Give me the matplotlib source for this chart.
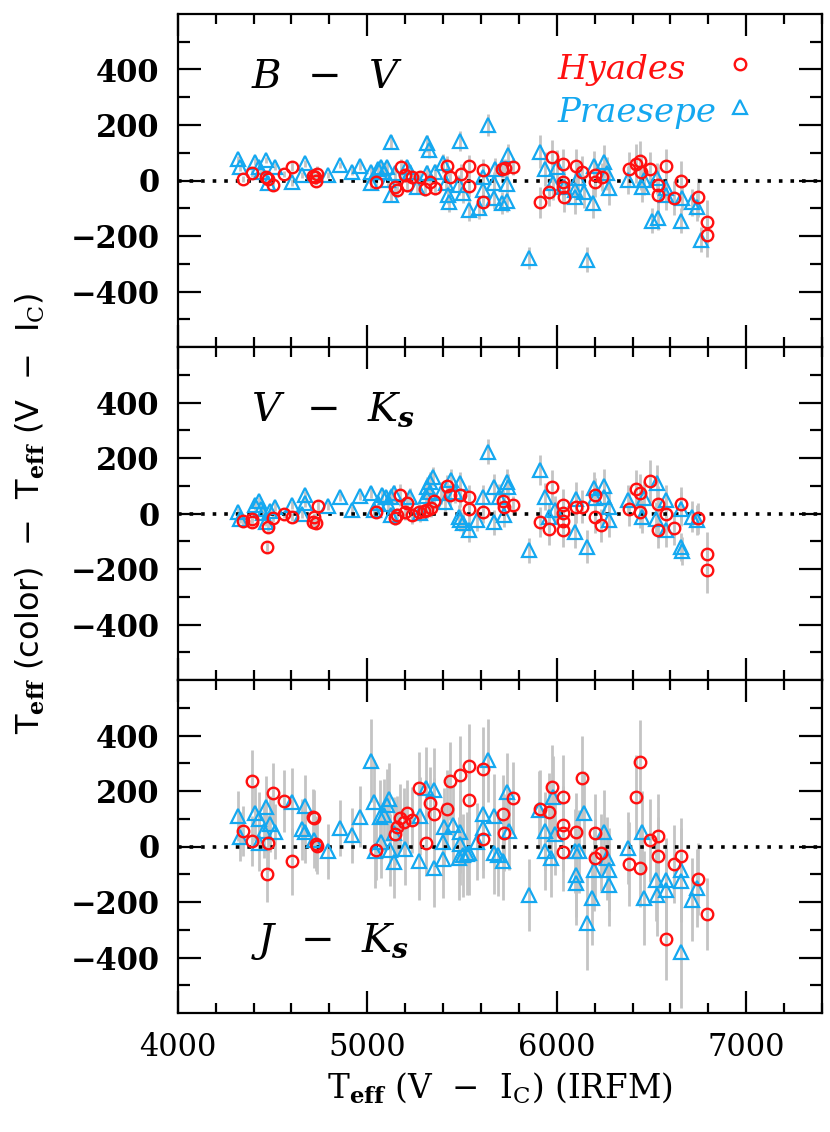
import matplotlib
matplotlib.use("Agg")
import matplotlib.pyplot as plt
from matplotlib.ticker import MultipleLocator, FixedLocator
import numpy as np

plt.rcParams['font.family'] = ['DejaVu Serif']
plt.rcParams['mathtext.fontset'] = 'dejavuserif'
plt.rcParams['axes.unicode_minus'] = True

# ---------------- data ----------------
# Panel 1: B - V
x1h = [4347, 4392, 4464, 4475, 4502, 4560, 4602, 4714, 4725, 4736, 4732, 5045, 5145, 5156, 5179,
       5197, 5212, 5235, 5279, 5304, 5331, 5358, 5422, 5436, 5494, 5536, 5539, 5610, 5610, 5711,
       5726, 5771, 5912, 5959, 5974, 6035, 6035, 6035, 6037, 6102, 6131, 6200, 6200, 6240, 6379,
       6419, 6437, 6446, 6493, 6535, 6535, 6575, 6618, 6658, 6745, 6792, 6792]
y1h = [5, 26, 11, 6, -16, 23, 50, 18, 11, 23, -2, -7, -25, -34, 48,
       20, -18, 11, 11, -30, -7, -28, 53, 14, 24, -19, 53, 38, -78, 43,
       44, 50, -79, -42, 85, 60, -7, -22, -60, 53, 30, 20, -6, 12, 41,
       60, 72, 30, 41, -18, -54, 53, -63, -1, -60, -150, -196]
e1h = [12, 12, 15, 12, 12, 12, 15, 15, 15, 30, 15, 20, 25, 25, 30,
       25, 25, 20, 25, 25, 25, 25, 35, 30, 35, 40, 40, 40, 40, 35,
       35, 30, 55, 50, 60, 55, 55, 55, 55, 60, 60, 55, 55, 50, 60,
       70, 70, 65, 60, 65, 65, 60, 60, 70, 70, 80, 80]

x1p = [4318, 4330, 4408, 4430, 4464, 4441, 4479, 4511, 4602, 4654, 4671, 4794, 4855, 4922, 4960,
       5018, 5022, 5056, 5071, 5089, 5105, 5112, 5123, 5123, 5145, 5212, 5228, 5264, 5313, 5328,
       5313, 5358, 5402, 5414, 5429, 5431, 5489, 5487, 5505, 5536, 5592, 5610, 5610, 5637, 5670,
       5677, 5670, 5711, 5738, 5740, 5744, 5856, 5912, 5939, 5983, 5999, 6039, 6095, 6099, 6113,
       6146, 6162, 6189, 6196, 6252, 6263, 6278, 6374, 6452, 6459, 6502, 6535, 6575, 6575, 6658,
       6660, 6714, 6741, 6759, 6531]
y1p = [77, 48, 68, 50, 74, 32, -10, 50, -7, 20, 62, 20, 56, 32, 54,
       32, -10, 42, 50, 32, 50, 2, 140, -51, 26, 50, 32, -25, 134, 110,
       26, 30, 62, -10, -51, -79, 143, -16, -46, -105, -99, -34, 14, 200, -10,
       41, -63, -81, -75, -13, 92, -279, 104, 41, -10, 50, -22, -34, -60, 8,
       -40, -285, -81, 53, 68, 26, -28, 2, -22, 2, -145, -135, -28, -51, -145,
       -63, -79, -96, -213, 8]
e1p = [12, 12, 12, 12, 12, 12, 12, 12, 12, 12, 12, 12, 12, 12, 15,
       15, 20, 20, 20, 20, 20, 25, 25, 25, 25, 25, 25, 25, 30, 30,
       30, 30, 35, 35, 35, 35, 35, 35, 35, 40, 40, 40, 40, 40, 40,
       40, 40, 40, 40, 40, 40, 40, 60, 60, 60, 60, 55, 60, 60, 60,
       60, 45, 55, 55, 60, 60, 60, 50, 55, 55, 45, 45, 55, 55, 45,
       45, 50, 50, 45, 55]

# Panel 2: V - Ks
x2h = [4347, 4392, 4394, 4475, 4469, 4502, 4560, 4602, 4721, 4714, 4732, 4738, 5045, 5145, 5156,
       5174, 5197, 5212, 5235, 5275, 5302, 5313, 5335, 5353, 5420, 5436, 5492, 5539, 5539, 5610,
       5715, 5720, 5771, 5912, 5959, 5974, 6035, 6035, 6035, 6035, 6102, 6131, 6200, 6200, 6236,
       6379, 6419, 6437, 6441, 6493, 6535, 6535, 6575, 6618, 6658, 6745, 6792, 6792]
y2h = [-26, -19, -29, -49, -122, -17, -1, -13, -13, -29, -35, 28, 5, -17, -5,
       67, 5, 37, -7, 7, 10, 13, 19, 46, 99, 67, 65, 61, 16, 7,
       46, 22, 29, -31, -55, 97, 29, 1, -26, -61, 22, 25, 67, -11, -43,
       16, 87, 73, 6, 117, 34, -61, -1, -53, 34, -18, -146, -205]
e2h = [15, 15, 15, 20, 20, 15, 15, 15, 15, 20, 20, 20, 20, 25, 25,
       40, 30, 30, 30, 30, 30, 30, 30, 30, 40, 40, 40, 40, 40, 40,
       40, 40, 35, 55, 60, 60, 60, 60, 60, 60, 55, 60, 60, 60, 60,
       60, 70, 70, 60, 75, 65, 65, 60, 60, 60, 55, 80, 80]

x2p = [4318, 4330, 4408, 4430, 4441, 4452, 4464, 4488, 4511, 4602, 4654, 4671, 4671, 4794, 4855,
       4922, 4960, 5022, 5034, 5056, 5078, 5100, 5112, 5123, 5123, 5139, 5228, 5279, 5309, 5318,
       5329, 5347, 5333, 5391, 5409, 5442, 5462, 5489, 5487, 5492, 5503, 5539, 5581, 5610, 5637,
       5670, 5670, 5693, 5720, 5738, 5744, 5856, 5912, 5939, 5957, 5990, 6099, 6102, 6162, 6196,
       6200, 6252, 6252, 6274, 6278, 6374, 6452, 6459, 6531, 6526, 6575, 6575, 6658, 6660, 6658,
       6714, 6741]
y2p = [5, -19, 29, 46, 17, 1, -29, 10, 25, 31, -2, 65, 37, 28, 59,
       13, 63, 75, 13, 37, 66, 61, 35, 61, -5, 73, 61, 1, 63, 95,
       115, 133, 77, 73, 40, 121, 79, 109, -11, -23, -35, -61, -23, 61, 223,
       97, -31, 61, -5, 115, 97, -133, 157, 61, -11, 13, -65, 53, -119, 91,
       55, 99, 61, 25, -23, 49, -11, 57, 109, -19, 49, -61, -122, -134, 16,
       -11, -23]
e2p = [15, 15, 15, 15, 15, 15, 15, 15, 15, 15, 15, 15, 15, 15, 15,
       15, 15, 20, 20, 25, 25, 25, 25, 30, 30, 30, 30, 30, 35, 35,
       35, 35, 35, 40, 40, 40, 40, 40, 40, 40, 40, 40, 40, 40, 45,
       45, 45, 45, 45, 45, 45, 45, 55, 50, 50, 50, 60, 60, 60, 60,
       60, 60, 60, 60, 60, 55, 60, 60, 65, 60, 55, 60, 50, 50, 60,
       55, 55]

# Panel 3: J - Ks
x3h = [4347, 4392, 4394, 4469, 4477, 4502, 4560, 4602, 4716, 4721, 4732, 4736, 5045, 5145, 5156,
       5174, 5194, 5212, 5235, 5275, 5309, 5331, 5353, 5420, 5436, 5492, 5536, 5539, 5610, 5610,
       5717, 5720, 5771, 5912, 5961, 5974, 6035, 6035, 6035, 6035, 6102, 6131, 6200, 6200, 6236,
       6379, 6419, 6437, 6441, 6493, 6535, 6535, 6575, 6618, 6658, 6745, 6792]
y3h = [57, 236, 20, -99, 12, 192, 164, -54, 108, 102, 10, 2, -12, 44, 72,
       104, 90, 120, 96, 210, 12, 158, 117, 135, 236, 257, 291, 168, 279, 26,
       117, 50, 174, 135, 126, 216, 180, 78, 50, -20, 54, 248, 48, -42, -22,
       -63, 180, 305, -78, 22, 38, -34, -332, -62, -36, -117, -242]
e3h = [90, 110, 90, 100, 100, 110, 110, 120, 100, 100, 100, 100, 110, 110, 110,
       120, 120, 120, 120, 130, 120, 130, 130, 140, 140, 140, 150, 140, 150, 140,
       140, 140, 130, 140, 140, 150, 150, 140, 140, 140, 140, 150, 140, 140, 140,
       150, 150, 150, 140, 150, 150, 140, 150, 140, 140, 130, 130]

x3p = [4318, 4330, 4408, 4430, 4430, 4464, 4457, 4488, 4511, 4602, 4654, 4671, 4671, 4721, 4794,
       4855, 4922, 4960, 5022, 5034, 5040, 5067, 5071, 5089, 5105, 5116, 5118, 5139, 5139, 5201,
       5279, 5275, 5309, 5353, 5351, 5402, 5402, 5404, 5454, 5489, 5492, 5487, 5503, 5525, 5539,
       5581, 5610, 5610, 5637, 5670, 5670, 5688, 5715, 5738, 5749, 5856, 5905, 5939, 5939, 5972,
       5983, 5990, 6095, 6102, 6102, 6117, 6146, 6162, 6184, 6196, 6252, 6263, 6274, 6274, 6374,
       6452, 6459, 6526, 6531, 6575, 6575, 6658, 6658, 6658, 6714, 6741]
y3p = [111, 36, 120, 98, 12, 144, 57, 81, 54, 162, 62, 146, 51, 24, -18,
       66, 40, 108, 309, 162, -18, 108, 18, 114, 150, 170, -12, -56, 50, -8,
       111, -51, 210, 204, -78, 18, -46, 72, 78, 54, 10, -42, -32, -26, -24,
       18, 117, 66, 311, 111, -22, -30, -54, 198, 56, -174, 132, 57, -18, -42,
       177, 46, -16, -104, -132, -18, 122, -275, -186, -84, 54, -42, -84, -138, -4,
       51, -186, -120, -174, -120, -156, -84, -123, -381, -192, -150]
e3p = [90, 90, 100, 100, 100, 110, 100, 100, 100, 120, 110, 110, 110, 100, 100,
       100, 100, 110, 150, 150, 130, 130, 130, 130, 130, 130, 130, 130, 130, 130,
       140, 140, 150, 150, 140, 140, 140, 140, 140, 150, 150, 150, 150, 150, 150,
       140, 150, 150, 150, 150, 150, 150, 140, 140, 140, 130, 140, 140, 140, 140,
       150, 150, 150, 150, 150, 150, 150, 170, 170, 150, 150, 150, 150, 150, 130,
       150, 170, 150, 150, 150, 150, 150, 150, 200, 150, 140]

panels = [
    dict(hx=x1h, hy=y1h, he=e1h, px=x1p, py=y1p, pe=e1p),
    dict(hx=x2h, hy=y2h, he=e2h, px=x2p, py=y2p, pe=e2p),
    dict(hx=x3h, hy=y3h, he=e3h, px=x3p, py=y3p, pe=e3p),
]
panel_labels = [r'$B\ \,-\ \,V$', r'$V\ \,-\ \,K_{\mathbfit{s}}$', r'$J\ \,-\ \,K_{\mathbfit{s}}$']
label_pos = [(4385, 335), (4385, 335), (4385, -380)]
cluster_names = ['Hyades', 'Praesepe']

RED = '#ff1010'
BLUE = '#14a8f0'
GREY = '#c4c4c4'

W, H = 830, 1132
fig = plt.figure(figsize=(W / 100, H / 100), dpi=100)

left_px, right_px = 177.7, 822.0
top_px, bot_px = 14.0, 1013.0
ph = (bot_px - top_px) / 3.0

hstyle = dict(ls='none', marker='o', ms=8.3, mfc='none', mec=RED, mew=1.7)
pstyle = dict(ls='none', marker='^', ms=9.5, mfc='none', mec=BLUE, mew=1.6)

axes = []
for i, p in enumerate(panels):
    t = top_px + i * ph
    ax = fig.add_axes([left_px / W, 1 - (t + ph) / H, (right_px - left_px) / W, ph / H])
    axes.append(ax)
    ax.set_xlim(4000, 7400)
    ax.set_ylim(-600, 600)

    ax.errorbar(p['px'], p['py'], yerr=p['pe'], fmt='none', ecolor=GREY, elinewidth=2.0,
                capsize=0, zorder=1)
    ax.errorbar(p['hx'], p['hy'], yerr=p['he'], fmt='none', ecolor=GREY, elinewidth=2.0,
                capsize=0, zorder=1)
    ax.axhline(0, color='black', ls=(0, (1, 2.2)), lw=2.6, zorder=2)
    ax.plot(p['px'], p['py'], zorder=3, **pstyle)
    ax.plot(p['hx'], p['hy'], zorder=4, **hstyle)

    ax.text(label_pos[i][0], label_pos[i][1], panel_labels[i], fontsize=29, color='black',
            ha='left', va='baseline')

    ax.xaxis.set_major_locator(MultipleLocator(1000))
    ax.xaxis.set_minor_locator(MultipleLocator(200))
    ax.yaxis.set_major_locator(FixedLocator([-400, -200, 0, 200, 400]))
    ax.yaxis.set_minor_locator(FixedLocator([-500, -300, -100, 100, 300, 500]))
    ax.tick_params(which='both', direction='in', top=True, right=True, width=1.6, color='black')
    ax.tick_params(axis='x', which='major', length=16)
    ax.tick_params(axis='x', which='minor', length=7.5)
    ax.tick_params(axis='y', which='major', length=16.5)
    ax.tick_params(axis='y', which='minor', length=8.5)
    ax.tick_params(axis='y', labelsize=22, pad=13)
    ax.tick_params(axis='x', labelsize=22, pad=14)
    for lab in ax.get_yticklabels():
        lab.set_fontweight('bold')
    for s in ax.spines.values():
        s.set_linewidth(1.6)
    if i < 2:
        ax.tick_params(axis='x', labelbottom=False)

# legend (text left-aligned, key symbol to the right) in the top panel
ax0 = axes[0]
legend_rows = [(cluster_names[0], RED, hstyle, 0.805, 0.850),
               (cluster_names[1], BLUE, pstyle, 0.676, 0.721)]
for name, col, sty, ty, my in legend_rows:
    ax0.text(0.589, ty, name, transform=ax0.transAxes, color=col, fontsize=24.5,
             style='italic', ha='left', va='baseline')
    ax0.plot([0.873], [my], transform=ax0.transAxes, clip_on=False, **sty)

fig.text((left_px + right_px) / 2 / W, 1 - 1088 / H,
         r'T$_{\mathbf{eff}}$ (V  $-$  I$_{\mathrm{C}}$) (IRFM)',
         ha='center', va='center', fontsize=23.5)
fig.text(30 / W, 1 - 513 / H,
         r'T$_{\mathbf{eff}}$ (color)  $-$  T$_{\mathbf{eff}}$ (V  $-$  I$_{\mathrm{C}}$)',
         ha='center', va='center', rotation=90, fontsize=23, family='DejaVu Sans')

fig.savefig('out.png', dpi=100)
